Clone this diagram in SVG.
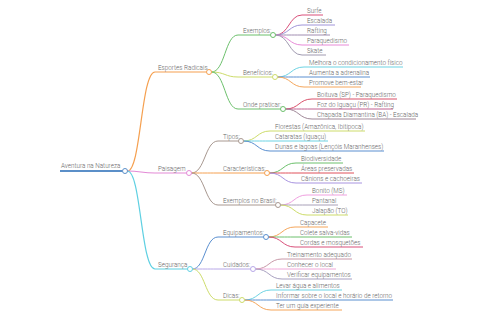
<svg xmlns="http://www.w3.org/2000/svg" width="480" height="320" viewBox="0 0 480 320">
<style>
text{font-family:Roboto,"Liberation Sans",sans-serif;font-size:6.3px;fill:#666;font-weight:300}
path{fill:none;stroke-width:1}
.l1{stroke-width:1.2}
.l0{stroke-width:2}
circle{fill:#fff;stroke-width:1}
</style>
<rect width="480" height="320" fill="#fff"/>
<g id="connectors">
<path class="l1" stroke="#f5a050" d="M127.5 171C141 171 141 72 155 72H206.5"/>
<path class="l1" stroke="#e38ad6" d="M127.5 171C141 171 141 173 155 173H186.5"/>
<path class="l1" stroke="#5fd0e2" d="M127.5 171C141 171 141 269 155 269H187.5"/>
<path stroke="#6cc06c" d="M211.5 72C225 72 225 35 238 35H270.5"/>
<path stroke="#cddc6a" d="M211.5 72C225 72 225 77 238 77H272.5"/>
<path stroke="#6cc06c" d="M211.5 72C225 72 225 109 238 109H280.5"/>
<path stroke="#a89890" d="M191.5 173C205 173 205 141 218 141H238.5"/>
<path stroke="#f5a050" d="M191.5 173C205 173 205 173 218 173H264.5"/>
<path stroke="#a89890" d="M191.5 173C205 173 205 205 218 205H275.5"/>
<path stroke="#5a8fd0" d="M192.5 269C205 269 205 237 218 237H263.5"/>
<path stroke="#b8a8e8" d="M192.5 269C205 269 205 269 218 269H250.5"/>
<path stroke="#cddc6a" d="M192.5 269C205 269 205 300 218 300H239.5"/>
<path stroke="#d9507a" d="M275.5 35C289 35 289 15 302 15H323"/>
<path stroke="#a094d8" d="M275.5 35C289 35 289 25 302 25H335"/>
<path stroke="#a08cb0" d="M275.5 35C289 35 289 35 302 35H330"/>
<path stroke="#e88ad8" d="M275.5 35C289 35 289 45 302 45H349"/>
<path stroke="#a09ab0" d="M275.5 35C289 35 289 55 302 55H326"/>
<path stroke="#6dd3e3" d="M277.5 77C291 77 291 67 304 67H403"/>
<path stroke="#5a8fd0" d="M277.5 77C291 77 291 77 304 77H370"/>
<path stroke="#f5a65b" d="M277.5 77C291 77 291 87 304 87H361"/>
<path stroke="#d9506a" d="M285.5 109C299 109 299 99 312 99H397"/>
<path stroke="#c06090" d="M285.5 109C299 109 299 109 312 109H393"/>
<path stroke="#a08898" d="M285.5 109C299 109 299 119 312 119H416"/>
<path stroke="#cddc6a" d="M243.5 141C257 141 257 131 270 131H365"/>
<path stroke="#6dd3e3" d="M243.5 141C257 141 257 141 270 141H328"/>
<path stroke="#5a8fd0" d="M243.5 141C257 141 257 151 270 151H384"/>
<path stroke="#6cc06c" d="M269.5 173C283 173 283 163 296 163H343"/>
<path stroke="#e0505a" d="M269.5 173C283 173 283 173 296 173H354"/>
<path stroke="#a894e0" d="M269.5 173C283 173 283 183 296 183H362"/>
<path stroke="#f0a0e0" d="M280.5 205C294 205 294 195 307 195H347"/>
<path stroke="#a8a0b8" d="M280.5 205C294 205 294 205 307 205H338"/>
<path stroke="#cddc6a" d="M280.5 205C294 205 294 215 307 215H348"/>
<path stroke="#f5a65b" d="M268.5 237C282 237 282 227 295 227H328"/>
<path stroke="#6cc06c" d="M268.5 237C282 237 282 237 295 237H352"/>
<path stroke="#d9507a" d="M268.5 237C282 237 282 247 295 247H363"/>
<path stroke="#c898a8" d="M255.5 269C269 269 269 259 282 259H352"/>
<path stroke="#f0a8d8" d="M255.5 269C269 269 269 269 282 269H336"/>
<path stroke="#a8a0c0" d="M255.5 269C269 269 269 279 282 279H352"/>
<path stroke="#6dd3e3" d="M244.5 300C258 300 258 290 271 290H342"/>
<path stroke="#5a8fd0" d="M244.5 300C258 300 258 300 271 300H393"/>
<path stroke="#f5a65b" d="M244.5 300C258 300 258 310 271 310H342"/>
</g>
<g id="root"><path class="l0" stroke="#5b8fc8" d="M60 171H122.5"/><circle cx="125" cy="171" r="2.5" stroke="#5b8fc8"/><text x="61" y="168">Aventura na Natureza</text></g>
<g id="esportes"><circle cx="209" cy="72" r="2.5" stroke="#f5a050"/><text x="158" y="69.5">Esportes Radicais</text></g>
<g id="paisagem"><circle cx="189" cy="173" r="2.5" stroke="#e38ad6"/><text x="158" y="170.5">Paisagem</text></g>
<g id="seguranca"><circle cx="190" cy="269" r="2.5" stroke="#5fd0e2"/><text x="158" y="266.5">Segurança</text></g>
<g id="exemplos"><circle cx="273" cy="35" r="2.5" stroke="#6cc06c"/><text x="243" y="32.5">Exemplos:</text></g>
<g id="beneficios"><circle cx="275" cy="77" r="2.5" stroke="#cddc6a"/><text x="243" y="74.5">Benefícios:</text></g>
<g id="onde"><circle cx="283" cy="109" r="2.5" stroke="#6cc06c"/><text x="243" y="106.5">Onde praticar:</text></g>
<g id="tipos"><circle cx="241" cy="141" r="2.5" stroke="#a89890"/><text x="223" y="138.5">Tipos:</text></g>
<g id="caracteristicas"><circle cx="267" cy="173" r="2.5" stroke="#f5a050"/><text x="223" y="170.5">Características:</text></g>
<g id="exbrasil"><circle cx="278" cy="205" r="2.5" stroke="#a89890"/><text x="223" y="202.5">Exemplos no Brasil:</text></g>
<g id="equipamentos"><circle cx="266" cy="237" r="2.5" stroke="#5a8fd0"/><text x="223" y="234.5">Equipamentos:</text></g>
<g id="cuidados"><circle cx="253" cy="269" r="2.5" stroke="#b8a8e8"/><text x="223" y="266.5">Cuidados:</text></g>
<g id="dicas"><circle cx="242" cy="300" r="2.5" stroke="#cddc6a"/><text x="223" y="297.5">Dicas:</text></g>
<g id="leaves">
<text x="307" y="12.5">Surfe</text>
<text x="307" y="22.5">Escalada</text>
<text x="307" y="32.5">Rafting</text>
<text x="307" y="42.5">Paraquedismo</text>
<text x="307" y="52.5">Skate</text>
<text x="309" y="64.5">Melhora o condicionamento físico</text>
<text x="309" y="74.5">Aumenta a adrenalina</text>
<text x="309" y="84.5">Promove bem-estar</text>
<text x="317" y="96.5">Boituva (SP) - Paraquedismo</text>
<text x="317" y="106.5">Foz do Iguaçu (PR) - Rafting</text>
<text x="317" y="116.5">Chapada Diamantina (BA) - Escalada</text>
<text x="275" y="128.5">Florestas (Amazônica, Ibitipoca)</text>
<text x="275" y="138.5">Cataratas (Iguaçu)</text>
<text x="275" y="148.5">Dunas e lagoas (Lençóis Maranhenses)</text>
<text x="301" y="160.5">Biodiversidade</text>
<text x="301" y="170.5">Áreas preservadas</text>
<text x="301" y="180.5">Cânions e cachoeiras</text>
<text x="312" y="192.5">Bonito (MS)</text>
<text x="312" y="202.5">Pantanal</text>
<text x="312" y="212.5">Jalapão (TO)</text>
<text x="300" y="224.5">Capacete</text>
<text x="300" y="234.5">Colete salva-vidas</text>
<text x="300" y="244.5">Cordas e mosquetões</text>
<text x="287" y="256.5">Treinamento adequado</text>
<text x="287" y="266.5">Conhecer o local</text>
<text x="287" y="276.5">Verificar equipamentos</text>
<text x="276" y="287.5">Levar água e alimentos</text>
<text x="276" y="297.5">Informar sobre o local e horário de retorno</text>
<text x="276" y="307.5">Ter um guia experiente</text>
</g>
</svg>
